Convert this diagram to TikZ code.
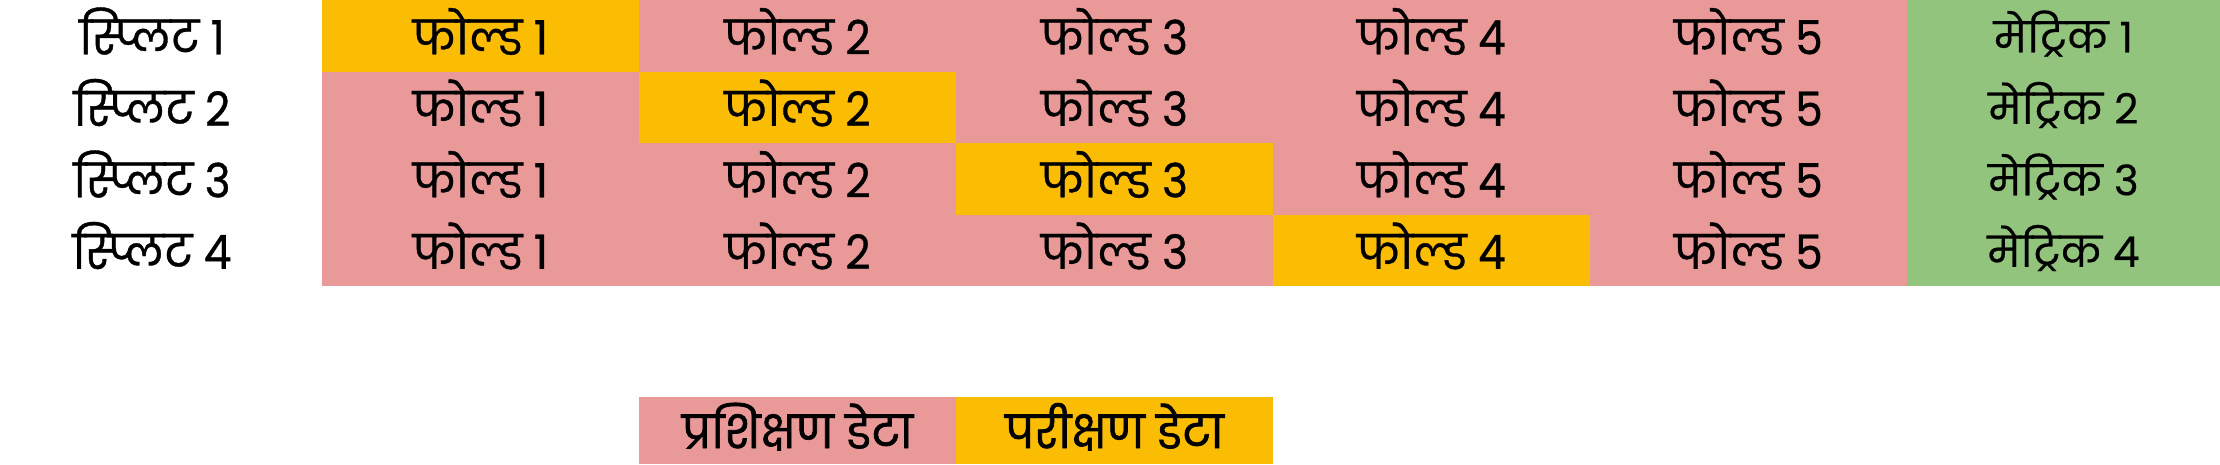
\documentclass[tikz,border=0pt]{standalone}
\usepackage{graphicx}
\usepackage{fontspec}
\newfontfamily\devfont[Script=Devanagari,FakeBold=0.8]{Poppins}
\newfontfamily\legfont[Script=Devanagari,FakeBold=1.6]{Poppins}
\newfontfamily\popfont[Script=Devanagari,FakeBold=0.4]{Poppins}
\definecolor{trainc}{HTML}{EA9999}
\definecolor{testc}{HTML}{FBBC04}
\definecolor{metricc}{HTML}{93C47D}
\newcommand{\talltxt}[1]{\scalebox{1.04}[1.12]{#1}}
\begin{document}
\begin{tikzpicture}[x=1pt,y=-1pt,
  cell/.style={anchor=north west,minimum width=317pt,minimum height=71.5pt,inner sep=0pt,outer sep=0pt,
    text height=37pt,text depth=0pt,font=\devfont\fontsize{42}{46}\selectfont},
  train/.style={cell,fill=trainc},
  test/.style={cell,fill=testc},
  metric/.style={cell,fill=metricc,minimum width=313pt,text height=33pt,font=\popfont\fontsize{42}{46}\selectfont},
  lbl/.style={inner sep=0pt,text height=37pt,text depth=0pt,font=\devfont\fontsize{42}{46}\selectfont},
  legbox/.style={cell,minimum height=67pt,text height=35pt,font=\legfont\fontsize{43}{46}\selectfont}]
\useasboundingbox (0,0) rectangle (2220,464);
\fill[white] (0,0) rectangle (2220,464);
\foreach \r in {1,2,3,4}{
  \pgfmathsetmacro{\yy}{(\r-1)*71.5}
  \node[lbl] (s\r) at (152,\yy+35.75) {\talltxt{स्प्लिट \r}};
  \foreach \c in {1,...,5}{
    \pgfmathsetmacro{\xx}{322+(\c-1)*317}
    \ifnum\c=\r
      \node[test] (f\r\c) at (\xx,\yy) {\talltxt{फोल्ड \c}};
    \else
      \node[train] (f\r\c) at (\xx,\yy) {\talltxt{फोल्ड \c}};
    \fi
  }
  \node[metric] (m\r) at (1907,\yy) {मेट्रिक \r};
}
\node[legbox,fill=trainc] (ltrain) at (639,397) {\scalebox{1.03}[1.05]{प्रशिक्षण डेटा}};
\node[legbox,fill=testc] (ltest) at (956,397) {\scalebox{1.03}[1.05]{परीक्षण डेटा}};
\end{tikzpicture}
\end{document}
